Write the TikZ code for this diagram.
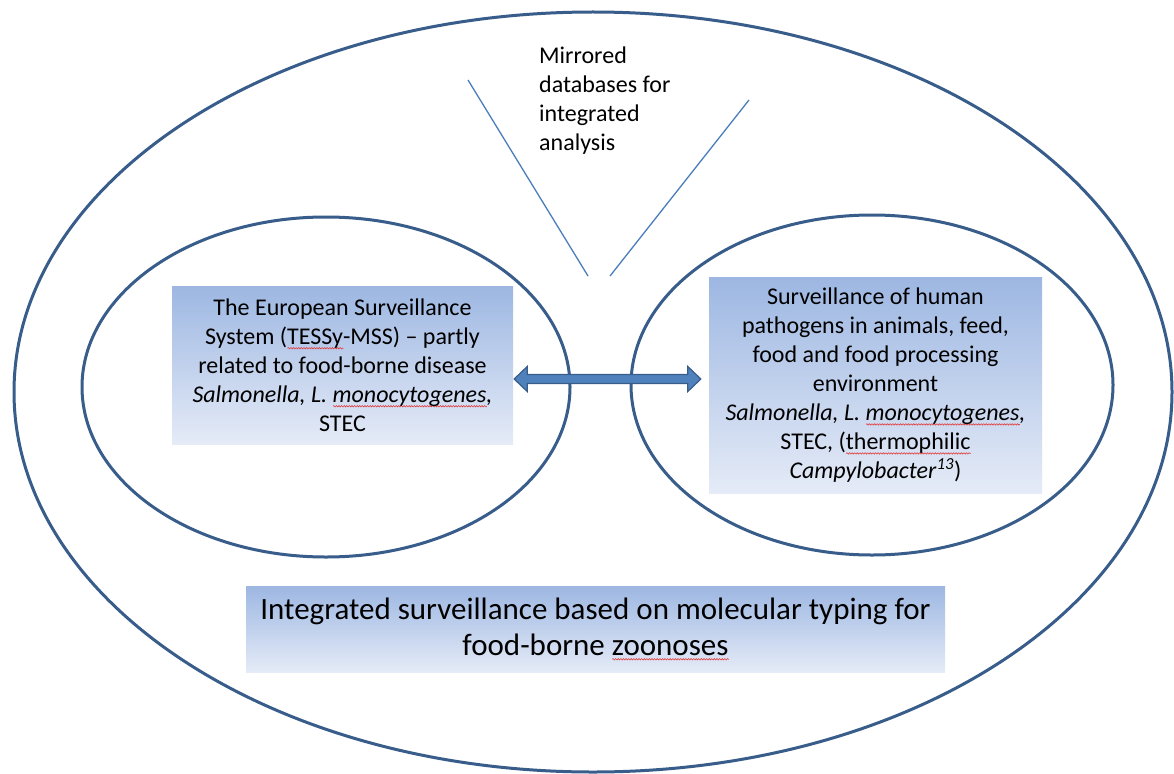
\documentclass[tikz,border=0pt]{standalone}
\usepackage{fontspec}
\setmainfont{Carlito}
\usetikzlibrary{calc,decorations.pathmorphing}
\definecolor{ringblue}{RGB}{56,93,138}
\definecolor{lineblue}{RGB}{74,126,187}
\definecolor{arrowfill}{RGB}{79,129,189}
\definecolor{boxtop}{RGB}{157,183,226}
\definecolor{boxbot}{RGB}{229,235,247}
\definecolor{squigred}{RGB}{225,60,60}
\newsavebox\sqbox
\newcommand\sq[1]{\sbox\sqbox{#1}\rlap{\raisebox{-4pt}{\tikz[x=1pt,y=1pt,baseline=0pt]\draw[squigred,line width=0.6pt,decorate,decoration={snake,amplitude=0.7pt,segment length=2.6pt}] (0,0) -- (\the\wd\sqbox,0);}}\usebox\sqbox}
\begin{document}
\begin{tikzpicture}[x=1pt,y=-1pt,
  ring/.style={draw=ringblue,line width=3pt},
  guide/.style={draw=lineblue,line width=1.3pt},
  textbox/.style={top color=boxtop,bottom color=boxbot,inner sep=0pt,align=center,font=\fontsize{24}{29}\selectfont},
  plaintext/.style={inner sep=0pt,align=left,font=\fontsize{24}{29}\selectfont},
  blockarrow/.style={draw=ringblue,fill=arrowfill,line width=1.2pt,line join=miter}]
\useasboundingbox (0,0) rectangle (1174,773);
\fill[white] (0,0) rectangle (1174,773);
% rings
\draw[ring] (593,392) ellipse [x radius=579, y radius=380];
\draw[ring] (326,387) ellipse [x radius=244, y radius=170];
\draw[ring] (872,385) ellipse [x radius=241, y radius=170];
% guide lines
\coordinate (g1a) at (468,80);
\coordinate (g1b) at (588,276);
\coordinate (g2a) at (749,100);
\coordinate (g2b) at (610,276);
\draw[guide] (g1a) -- (g1b);
\draw[guide] (g2a) -- (g2b);
% label
\node[plaintext,anchor=north west] (mir) at (539,47) {Mirrored\\databases for\\integrated\\analysis};
% boxes
\node[textbox,minimum width=341pt,minimum height=158pt] (eu) at (342.5,365)
  {The European Surveillance\\System (\sq{TESSy}-MSS) – partly\\related to food-borne disease\\\textit{Salmonella,\ L. \sq{monocytogenes},}\\STEC};
\node[textbox,minimum width=333pt,minimum height=216pt] (an) at (875.5,385)
  {Surveillance of human\\pathogens in animals, feed,\\food and food processing\\environment\\\textit{Salmonella,\ L. \sq{monocytogenes},}\\STEC, (\sq{thermophilic}\\\textit{Campylobacter}\textsuperscript{\textit{13}})};
\node[textbox,font=\fontsize{31}{36}\selectfont,minimum width=699pt,minimum height=86pt] (int) at (595.5,629)
  {Integrated surveillance based on molecular typing for\\food-borne \sq{zoonoses}};
% double block arrow
\coordinate (al) at ($(eu.east)+(1,14)$);
\coordinate (ar) at ($(an.west)+(-8,-6)$);
\draw[blockarrow] (al) -- ++(13,-12.5) -- ++(0,8) -- ($(ar)+(-13,-4.5)$) -- ++(0,-8) -- (ar)
  -- ++(-13,12.5) -- ++(0,-8) -- ($(al)+(13,4.5)$) -- ++(0,8) -- cycle;
\end{tikzpicture}
\end{document}
